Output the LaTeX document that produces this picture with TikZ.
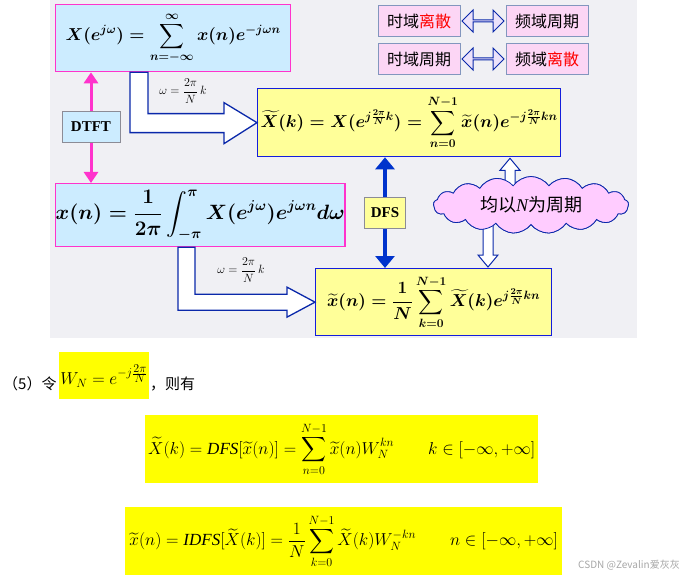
\documentclass[tikz,border=0pt]{standalone}
\usepackage{amsmath}
\usepackage{fontspec}
\setmainfont{Liberation Serif}
\newfontfamily\cjk{Noto Sans CJK SC}
\usetikzlibrary{calc,shapes.symbols,shapes.arrows,arrows.meta}
\definecolor{slidebg}{RGB}{240,240,244}
\definecolor{bcyan}{RGB}{204,236,255}
\definecolor{bmag}{RGB}{255,51,204}
\definecolor{byel}{RGB}{255,255,153}
\definecolor{bblue}{RGB}{20,30,220}
\definecolor{dblue}{RGB}{10,40,170}
\definecolor{arrblue}{RGB}{0,51,204}
\definecolor{tpink}{RGB}{252,214,245}
\definecolor{tborder}{RGB}{130,150,190}
\definecolor{lav}{RGB}{236,226,250}
\definecolor{cloudpink}{RGB}{255,204,255}
\definecolor{hyel}{RGB}{255,255,0}
\definecolor{lblgray}{RGB}{140,140,150}
\begin{document}
\begin{tikzpicture}[x=1pt,y=-1pt,
  bluebox/.style={draw=bmag,line width=1.3pt,fill=bcyan,anchor=north west,inner sep=0pt},
  yelbox/.style={draw=bblue,line width=1.3pt,fill=byel,anchor=north west,inner sep=0pt},
  tbox/.style={draw=tborder,line width=0.8pt,fill=tpink,minimum width=82pt,minimum height=31pt,inner sep=0pt,font=\cjk\fontsize{16}{18}\selectfont},
  lrarrow/.style={double arrow,draw=dblue,line width=1pt,fill=lav,minimum height=42pt,minimum width=22pt,double arrow head extend=5pt,inner sep=0pt},
  hollow/.style={draw=dblue,line width=1.3pt,fill=white,line join=miter},
  lab/.style={draw=lblgray,line width=0.8pt,inner sep=0pt,font=\fontsize{15}{18}\selectfont\bfseries},
  omega/.style={font=\fontsize{12}{14}\selectfont,inner sep=0pt},
  hl/.style={fill=hyel,anchor=north west,inner sep=0pt,font=\fontsize{17}{20}\selectfont},
  cjktext/.style={font=\cjk\fontsize{15}{18}\selectfont,inner sep=0pt}
]
\useasboundingbox (0,0) rectangle (685,580);
\fill[slidebg] (50,0) rectangle (637,338);

% main formula boxes
\node[bluebox,minimum width=235pt,minimum height=67pt,font=\fontsize{18.8}{22}\selectfont\boldmath] (dtft) at (55,4)
  {$\displaystyle X(e^{j\omega})=\sum_{n=-\infty}^{\infty}x(n)e^{-j\omega n}$};
\node[bluebox,minimum width=287pt,minimum height=63pt,font=\fontsize{19.6}{23}\selectfont\boldmath] (idtft) at (55,183)
  {$\displaystyle x(n)=\frac{1}{2\pi}\int_{-\pi}^{\pi}X(e^{j\omega})e^{j\omega n}d\omega$};
\node[yelbox,minimum width=303pt,minimum height=68pt,font=\fontsize{18.3}{22}\selectfont\boldmath] (dfs) at (257,88)
  {$\displaystyle \widetilde{X}(k)=X(e^{j\frac{2\pi}{N}k})=\sum_{n=0}^{N-1}\widetilde{x}(n)e^{-j\frac{2\pi}{N}kn}$};
\node[yelbox,minimum width=236pt,minimum height=67pt,font=\fontsize{18}{22}\selectfont\boldmath] (idfs) at (315,268)
  {$\displaystyle \widetilde{x}(n)=\frac{1}{N}\sum_{k=0}^{N-1}\widetilde{X}(k)e^{j\frac{2\pi}{N}kn}$};

% top right boxes
\node[tbox] (t1) at (419,21) {时域{\color{red}离散}};
\node[tbox] (f1) at (547,21) {频域周期};
\node[tbox] (t2) at (419,59) {时域周期};
\node[tbox] (f2) at (547,59) {频域{\color{red}离散}};
\node[lrarrow] (a1) at ($(t1.east)!0.5!(f1.west)$) {};
\node[lrarrow] (a2) at ($(t2.east)!0.5!(f2.west)$) {};

% labels
\node[lab,fill=bcyan,minimum width=58pt,minimum height=31pt] (dtftlab) at (91,127) {DTFT};
\node[lab,fill=byel,minimum width=41pt,minimum height=31pt] (dfslab) at (385,213) {DFS};

% magenta double arrow
\draw[bmag,line width=3pt,-{Triangle[length=11pt,width=14pt]}] (dtftlab.north) -- (dtftlab.north |- dtft.south);
\draw[bmag,line width=3pt,-{Triangle[length=11pt,width=14pt]}] (dtftlab.south) -- (dtftlab.south |- idtft.north);
% blue double arrow
\draw[arrblue,line width=4.5pt,-{Triangle[length=12pt,width=19pt]}] (dfslab.north) -- (dfslab.north |- dfs.south);
\draw[arrblue,line width=4.5pt,-{Triangle[length=12pt,width=19pt]}] (dfslab.south) -- (dfslab.south |- idfs.north);

% bent arrow 1
\coordinate (p1) at ($(dtft.south west)+(75,0)$);
\coordinate (p2) at ($(dtft.south west)+(93,0)$);
\coordinate (tip1) at (dfs.west);
\coordinate (b1) at ($(tip1)+(-33,10)$);
\coordinate (b2) at ($(tip1)+(-33,-9)$);
\draw[hollow] (p1) -- (p1 |- b1) -- (b1) -- ($(tip1)+(-33,21)$) -- (tip1)
  -- ($(tip1)+(-33,-20)$) -- (b2) -- (p2 |- b2) -- (p2) -- cycle;
\node[omega] (w1) at (183,91) {$\omega=\dfrac{2\pi}{N}\,k$};

% bent arrow 2
\coordinate (p3) at ($(idtft.south west)+(123,0)$);
\coordinate (p4) at ($(idtft.south west)+(140,0)$);
\coordinate (tip2) at (idfs.west);
\coordinate (b3) at ($(tip2)+(-28,8)$);
\coordinate (b4) at ($(tip2)+(-28,-8)$);
\draw[hollow] (p3) -- (p3 |- b3) -- (b3) -- ($(tip2)+(-28,15)$) -- (tip2)
  -- ($(tip2)+(-28,-15)$) -- (b4) -- (p4 |- b4) -- (p4) -- cycle;
\node[omega] (w2) at (241,270) {$\omega=\dfrac{2\pi}{N}\,k$};

% cloud arrows
\node[cloud,cloud puffs=17,cloud puff arc=110,aspect=3.5,draw=dblue,line width=0.8pt,fill=cloudpink,
  minimum width=195pt,minimum height=57pt,inner sep=0pt] (cloud) at (531,205) {};
\coordinate (ut) at ($(dfs.south west)+(253,1)$);
\coordinate (ub) at ($(ut |- cloud.north)+(0,10)$);
\coordinate (dt) at ($(idfs.north west)+(173,-1)$);
\coordinate (db) at ($(dt |- cloud.south)+(0,-10)$);
\draw[hollow,line width=1pt] ($(ub)+(-5,0)$) -- ($(ut)+(-5,12)$) -- ($(ut)+(-10,12)$) -- (ut)
  -- ($(ut)+(10,12)$) -- ($(ut)+(5,12)$) -- ($(ub)+(5,0)$) -- cycle;
\draw[hollow,line width=1pt] ($(db)+(-5,0)$) -- ($(dt)+(-5,-12)$) -- ($(dt)+(-10,-12)$) -- (dt)
  -- ($(dt)+(10,-12)$) -- ($(dt)+(5,-12)$) -- ($(db)+(5,0)$) -- cycle;
\node[cloud,cloud puffs=17,cloud puff arc=110,aspect=3.5,draw=dblue,line width=0.8pt,fill=cloudpink,
  minimum width=195pt,minimum height=57pt,inner sep=0pt,font=\cjk\fontsize{18}{20}\selectfont] (cloudtxt) at (cloud.center) {均以{\rmfamily\itshape N}为周期};

% bottom part
\node[cjktext,anchor=west] (five) at (3,384) {（5）令};
\node[hl,minimum width=90pt,minimum height=47pt] (wn) at (59,352) {$W_N=e^{-j\frac{\scriptstyle 2\pi}{\scriptstyle N}}$};
\node[cjktext,anchor=west] (then) at (150,384) {，则有};
\node[hl,minimum width=393pt,minimum height=68pt] (eq1) at (145,415)
  {$\displaystyle \widetilde{X}(k)=\mathit{DFS}[\widetilde{x}(n)]=\sum_{n=0}^{N-1}\widetilde{x}(n)W_N^{kn}\qquad k\in[-\infty,+\infty]$};
\node[hl,minimum width=437pt,minimum height=68pt] (eq2) at (125,507)
  {$\displaystyle \widetilde{x}(n)=\mathit{IDFS}[\widetilde{X}(k)]=\frac{1}{N}\sum_{k=0}^{N-1}\widetilde{X}(k)W_N^{-kn}\qquad n\in[-\infty,+\infty]$};
\node[font=\cjk\fontsize{10}{12}\selectfont,text=gray!70,anchor=east,inner sep=0pt] (wm) at (680,565) {CSDN @Zevalin爱灰灰};
\end{tikzpicture}
\end{document}
